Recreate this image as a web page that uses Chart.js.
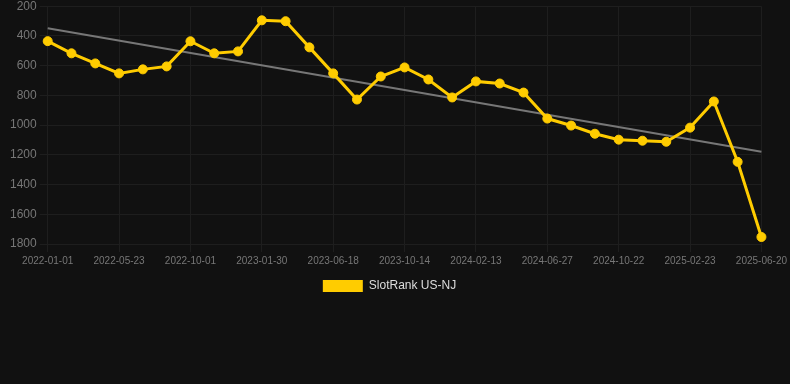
<!DOCTYPE html>
<html>
<head>
<meta charset="utf-8">
<script src="https://cdn.jsdelivr.net/npm/chart.js@4"></script>
<style>
  html, body { margin: 0; padding: 0; background: #111111; overflow: hidden; }
  #wrap { width: 790px; height: 388px; margin-top: -4px; }
</style>
</head>
<body>
<div id="wrap"><canvas id="rank-chart"></canvas></div>
<script>
const dates = [
    '2022-01-01', '2022-02-17', '2022-04-05', '2022-05-23', '2022-07-08', '2022-08-20',
    '2022-10-01', '2022-11-10', '2022-12-20', '2023-01-30', '2023-03-15', '2023-05-01',
    '2023-06-18', '2023-08-05', '2023-09-10', '2023-10-14', '2023-11-25', '2024-01-02',
    '2024-02-13', '2024-03-28', '2024-05-12', '2024-06-27', '2024-08-10', '2024-09-16',
    '2024-10-22', '2024-12-05', '2025-01-14', '2025-02-23', '2025-04-05', '2025-05-12',
    '2025-06-20'
];
const rankNJ = [
    435, 517, 585, 652, 625, 605, 436, 517, 504, 295, 301, 477,
    652, 828, 673, 612, 693, 814, 706, 720, 781, 956, 1003, 1058,
    1098, 1105, 1112, 1017, 841, 1247, 1753
];
// trend line ends (first and last date)
const trendEnds = [349, 1179];
const yTicks = [200, 400, 600, 800, 1000, 1200, 1400, 1600, 1800];

Chart.defaults.font.family = 'Arial, "Liberation Sans", Helvetica, sans-serif';

const ctx = document.getElementById('rank-chart').getContext('2d');
new Chart(ctx, {
    type: 'line',
    data: {
        labels: dates,
        datasets: [{
            label: 'SlotRank US-NJ',
            data: rankNJ,
            borderColor: '#FFCC00',
            backgroundColor: '#FFCC00',
            borderWidth: 3,
            pointRadius: 4.5,
            pointBorderWidth: 1,
            pointHoverRadius: 5,
            tension: 0
        }, {
            label: 'trend',
            data: [
                { x: dates[0], y: trendEnds[0] },
                { x: dates[dates.length - 1], y: trendEnds[1] }
            ],
            borderColor: '#777777',
            borderWidth: 2,
            pointRadius: 0
        }]
    },
    options: {
        responsive: true,
        maintainAspectRatio: false,
        animation: false,
        layout: { padding: { left: 7, right: 18, bottom: 82 } },
        plugins: {
            legend: {
                position: 'bottom',
                labels: {
                    color: '#dddddd',
                    font: { size: 12 },
                    boxWidth: 40,
                    boxHeight: 12,
                    generateLabels: chart => Chart.defaults.plugins.legend.labels.generateLabels(chart)
                        .filter(item => item.text !== 'trend')
                        .map(item => Object.assign(item, { lineWidth: 0 }))
                }
            },
            tooltip: { enabled: false }
        },
        scales: {
            x: {
                grid: { color: '#1e1e1e' },
                border: { color: '#1e1e1e' },
                ticks: {
                    color: '#777777',
                    font: { size: 10 },
                    maxRotation: 0,
                    autoSkip: true,
                    maxTicksLimit: 11
                }
            },
            y: {
                reverse: true,
                min: yTicks[0],
                max: yTicks[yTicks.length - 1],
                grid: { color: '#1e1e1e' },
                border: { color: '#1e1e1e' },
                ticks: {
                    color: '#777777',
                    font: { size: 12 },
                    stepSize: 200,
                    callback: v => String(v)
                }
            }
        }
    }
});
</script>
</body>
</html>
